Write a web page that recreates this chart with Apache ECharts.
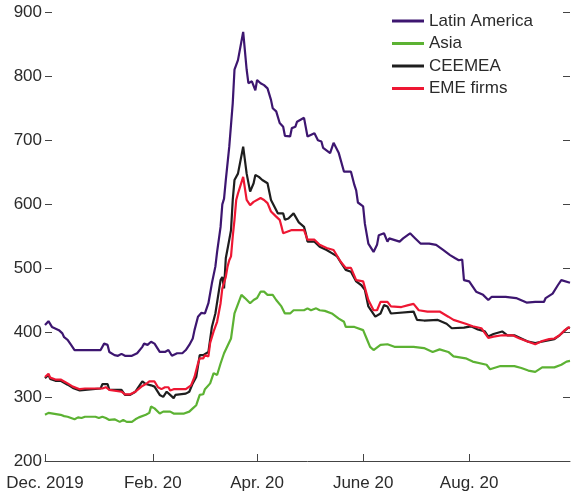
<!DOCTYPE html>
<html>
<head>
<meta charset="utf-8">
<script src="https://cdn.jsdelivr.net/npm/echarts@6/dist/echarts.min.js"></script>
<style>
  html, body { margin: 0; padding: 0; background: #fff; }
  #chart { width: 571px; height: 498px; }
</style>
</head>
<body>
<div id="chart"></div>
<script>
// Corporate bond spreads by region, basis points (date, level)
const latinAmerica = [
  ['2019-12-01',412],['2019-12-03',418],['2019-12-05',409],['2019-12-09',404],['2019-12-11',399],
  ['2019-12-12',393],['2019-12-14',389],['2019-12-16',381],['2019-12-18',373],['2020-01-02',373],
  ['2020-01-04',383],['2020-01-06',381],['2020-01-07',370],['2020-01-10',365],['2020-01-12',364],
  ['2020-01-14',367],['2020-01-16',364],['2020-01-20',364],['2020-01-23',368],['2020-01-26',378],
  ['2020-01-27',383],['2020-01-29',381],['2020-01-31',386],['2020-02-02',383],['2020-02-05',370],
  ['2020-02-08',370],['2020-02-10',373],['2020-02-12',364],['2020-02-15',368],['2020-02-18',368],
  ['2020-02-20',373],['2020-02-22',381],['2020-02-24',391],['2020-02-25',404],['2020-02-27',425],
  ['2020-02-29',431],['2020-03-02',430],['2020-03-03',433],['2020-03-04',446],['2020-03-06',477],
  ['2020-03-08',503],['2020-03-09',526],['2020-03-11',565],['2020-03-12',600],['2020-03-13',609],
  ['2020-03-14',638],['2020-03-16',690],['2020-03-18',758],['2020-03-19',810],['2020-03-21',825],
  ['2020-03-24',869],['2020-03-26',810],['2020-03-27',789],['2020-03-29',792],['2020-03-30',794],
  ['2020-03-31',778],['2020-04-01',794],['2020-04-03',789],['2020-04-05',786],['2020-04-07',781],
  ['2020-04-09',763],['2020-04-10',750],['2020-04-12',745],['2020-04-14',727],['2020-04-16',721],
  ['2020-04-17',707],['2020-04-20',706],['2020-04-21',719],['2020-04-23',721],['2020-04-24',729],
  ['2020-04-28',735],['2020-04-30',706],['2020-05-04',711],['2020-05-06',700],['2020-05-08',698],
  ['2020-05-09',688],['2020-05-13',680],['2020-05-15',696],['2020-05-18',680],['2020-05-21',651],
  ['2020-05-25',651],['2020-05-27',630],['2020-05-28',622],['2020-05-29',603],['2020-06-01',597],
  ['2020-06-02',570],['2020-06-04',539],['2020-06-07',526],['2020-06-09',537],['2020-06-10',552],
  ['2020-06-13',555],['2020-06-15',542],['2020-06-16',547],['2020-06-22',542],['2020-06-24',547],
  ['2020-06-28',555],['2020-07-01',547],['2020-07-04',539],['2020-07-09',539],['2020-07-13',537],
  ['2020-07-17',529],['2020-07-21',521],['2020-07-24',516],['2020-07-26',513],['2020-07-28',514],
  ['2020-07-29',482],['2020-08-01',480],['2020-08-05',464],['2020-08-09',459],['2020-08-12',451],
  ['2020-08-14',456],['2020-08-22',456],['2020-08-28',454],['2020-09-03',447],['2020-09-08',448],
  ['2020-09-13',448],['2020-09-14',454],['2020-09-18',461],['2020-09-21',474],['2020-09-23',482],
  ['2020-09-28',478]
];

const asia = [
  ['2019-12-01',272],['2019-12-03',275],['2019-12-04',272],['2019-12-10',272],['2019-12-11',274],
  ['2019-12-12',270],['2019-12-14',269],['2019-12-18',265],['2019-12-20',268],['2019-12-22',267],
  ['2019-12-24',269],['2019-12-30',269],['2020-01-01',267],['2020-01-03',269],['2020-01-05',267],
  ['2020-01-07',264],['2020-01-10',265],['2020-01-13',261],['2020-01-15',264],['2020-01-17',261],
  ['2020-01-20',261],['2020-01-22',265],['2020-01-24',268],['2020-01-28',272],['2020-01-30',275],
  ['2020-01-31',285],['2020-02-02',282],['2020-02-05',274],['2020-02-07',277],['2020-02-11',277],
  ['2020-02-13',274],['2020-02-19',274],['2020-02-22',277],['2020-02-24',282],['2020-02-26',287],
  ['2020-02-27',290],['2020-02-28',303],['2020-03-01',304],['2020-03-02',312],['2020-03-05',321],
  ['2020-03-07',337],['2020-03-09',334],['2020-03-11',352],['2020-03-13',368],['2020-03-17',391],
  ['2020-03-19',430],['2020-03-23',459],['2020-03-25',454],['2020-03-28',446],['2020-03-30',451],
  ['2020-04-01',454],['2020-04-03',464],['2020-04-05',464],['2020-04-07',459],['2020-04-10',459],
  ['2020-04-12',451],['2020-04-15',441],['2020-04-17',430],['2020-04-20',430],['2020-04-22',435],
  ['2020-04-28',435],['2020-04-30',438],['2020-05-02',435],['2020-05-05',438],['2020-05-07',435],
  ['2020-05-10',434],['2020-05-14',430],['2020-05-18',422],['2020-05-21',417],['2020-05-22',409],
  ['2020-05-27',409],['2020-06-01',404],['2020-06-03',391],['2020-06-05',378],['2020-06-07',373],
  ['2020-06-08',370],['2020-06-11',381],['2020-06-15',382],['2020-06-19',378],['2020-06-25',378],
  ['2020-06-30',378],['2020-07-06',376],['2020-07-11',370],['2020-07-15',374],['2020-07-20',370],
  ['2020-07-23',363],['2020-07-30',360],['2020-08-03',355],['2020-08-11',350],['2020-08-13',343],
  ['2020-08-19',348],['2020-08-27',348],['2020-08-31',345],['2020-09-04',341],['2020-09-08',339],
  ['2020-09-12',346],['2020-09-19',346],['2020-09-23',350],['2020-09-26',355],['2020-09-28',356]
];

const ceemea = [
  ['2019-12-01',329],['2019-12-03',334],['2019-12-04',328],['2019-12-07',325],['2019-12-10',325],
  ['2019-12-11',328],['2019-12-12',322],['2019-12-14',319],['2019-12-17',314],['2019-12-21',310],
  ['2019-12-24',311],['2020-01-02',313],['2020-01-03',320],['2020-01-06',320],['2020-01-07',311],
  ['2020-01-14',311],['2020-01-16',303],['2020-01-19',303],['2020-01-22',308],['2020-01-26',324],
  ['2020-01-28',320],['2020-01-31',318],['2020-02-02',316],['2020-02-05',303],['2020-02-07',300],
  ['2020-02-09',308],['2020-02-11',303],['2020-02-13',298],['2020-02-14',303],['2020-02-20',305],
  ['2020-02-22',308],['2020-02-24',321],['2020-02-26',331],['2020-02-28',365],['2020-03-01',365],
  ['2020-03-04',370],['2020-03-06',409],['2020-03-08',430],['2020-03-11',482],['2020-03-12',487],
  ['2020-03-13',469],['2020-03-14',516],['2020-03-16',545],['2020-03-17',560],['2020-03-18',607],
  ['2020-03-19',638],['2020-03-21',648],['2020-03-24',690],['2020-03-26',648],['2020-03-28',620],
  ['2020-03-30',633],['2020-03-31',646],['2020-04-02',643],['2020-04-04',638],['2020-04-07',633],
  ['2020-04-09',607],['2020-04-13',586],['2020-04-16',586],['2020-04-17',576],['2020-04-19',578],
  ['2020-04-22',586],['2020-04-25',572],['2020-04-28',565],['2020-04-29',555],['2020-04-30',542],
  ['2020-05-04',542],['2020-05-07',534],['2020-05-11',529],['2020-05-14',524],['2020-05-17',519],
  ['2020-05-20',506],['2020-05-22',498],['2020-05-25',495],['2020-05-28',480],['2020-05-31',474],
  ['2020-06-02',467],['2020-06-04',441],['2020-06-08',425],['2020-06-11',430],['2020-06-13',443],
  ['2020-06-15',441],['2020-06-17',430],['2020-06-30',433],['2020-07-02',420],['2020-07-06',419],
  ['2020-07-14',420],['2020-07-19',414],['2020-07-22',407],['2020-07-29',408],['2020-08-02',410],
  ['2020-08-06',405],['2020-08-10',402],['2020-08-12',394],['2020-08-15',398],['2020-08-20',402],
  ['2020-08-23',396],['2020-08-27',396],['2020-09-04',386],['2020-09-08',384],['2020-09-19',390],
  ['2020-09-22',396],['2020-09-27',408],['2020-09-28',407]
];

const emeFirms = [
  ['2019-12-01',331],['2019-12-03',336],['2019-12-04',330],['2019-12-07',327],['2019-12-10',327],
  ['2019-12-11',330],['2019-12-12',324],['2019-12-14',321],['2019-12-17',316],['2019-12-21',312],
  ['2019-12-24',313],['2020-01-03',313],['2020-01-05',315],['2020-01-06',312],['2020-01-07',311],
  ['2020-01-14',308],['2020-01-16',304],['2020-01-19',304],['2020-01-22',308],['2020-01-26',317],
  ['2020-01-28',320],['2020-01-30',324],['2020-02-02',324],['2020-02-04',315],['2020-02-06',312],
  ['2020-02-08',315],['2020-02-10',315],['2020-02-11',310],['2020-02-13',312],['2020-02-20',312],
  ['2020-02-23',318],['2020-02-25',331],['2020-02-27',352],['2020-02-28',360],['2020-03-01',360],
  ['2020-03-02',365],['2020-03-04',363],['2020-03-05',384],['2020-03-07',402],['2020-03-09',417],
  ['2020-03-11',446],['2020-03-12',469],['2020-03-13',472],['2020-03-14',487],['2020-03-15',503],
  ['2020-03-16',513],['2020-03-17',519],['2020-03-18',550],['2020-03-19',576],['2020-03-20',607],
  ['2020-03-21',617],['2020-03-24',643],['2020-03-26',607],['2020-03-28',599],['2020-03-30',604],
  ['2020-03-31',607],['2020-04-03',610],['2020-04-05',607],['2020-04-07',602],['2020-04-09',589],
  ['2020-04-12',581],['2020-04-14',576],['2020-04-15',566],['2020-04-16',555],['2020-04-21',560],
  ['2020-04-28',560],['2020-04-30',545],['2020-05-04',545],['2020-05-07',537],['2020-05-11',532],
  ['2020-05-15',529],['2020-05-19',511],['2020-05-22',501],['2020-05-25',501],['2020-05-28',482],
  ['2020-06-01',480],['2020-06-04',451],['2020-06-07',435],['2020-06-09',435],['2020-06-11',448],
  ['2020-06-15',448],['2020-06-17',441],['2020-06-23',440],['2020-06-27',443],['2020-06-30',445],
  ['2020-07-03',435],['2020-07-08',433],['2020-07-15',433],['2020-07-20',425],['2020-07-23',420],
  ['2020-07-30',414],['2020-08-03',410],['2020-08-08',407],['2020-08-12',392],['2020-08-15',394],
  ['2020-08-20',396],['2020-08-26',396],['2020-08-30',391],['2020-09-04',386],['2020-09-08',382],
  ['2020-09-12',387],['2020-09-16',390],['2020-09-19',391],['2020-09-22',396],['2020-09-25',404],
  ['2020-09-27',408],['2020-09-28',408]
];

// Axis ticks and labels
const xTickDates = ['2019-12-01', '2020-02-01', '2020-04-01', '2020-06-01', '2020-08-01'];
const xTickLabels = ['Dec. 2019', 'Feb. 20', 'Apr. 20', 'June 20', 'Aug. 20'];
const xStart = '2019-12-01';
const xEnd = '2020-09-28';
const yMin = 200, yMax = 900, yStep = 100;

const seriesNames = ['Latin America', 'Asia', 'CEEMEA', 'EME firms'];
const seriesColors = ['#3d1670', '#5cb233', '#1e1e1e', '#ee1733'];

const toTime = d => Date.parse(d + 'T00:00:00Z');
const tickTimes = xTickDates.map(toTime);
const labelFor = {};
tickTimes.forEach((t, i) => { labelFor[t] = xTickLabels[i]; });

const FONT = '"Liberation Sans", Arial, Helvetica, sans-serif';
const TEXT = '#2b2b2b';
const FONT_SIZE = 17;

const chart = echarts.init(document.getElementById('chart'), null, { renderer: 'canvas' });

const lineSeries = [latinAmerica, asia, ceemea, emeFirms].map((rows, i) => ({
  name: seriesNames[i],
  type: 'line',
  showSymbol: false,
  symbol: 'none',
  animation: false,
  lineStyle: { color: seriesColors[i], width: 2.2 },
  itemStyle: { color: seriesColors[i] },
  data: rows.map(r => [toTime(r[0]), r[1]])
}));

chart.setOption({
  backgroundColor: '#fff',
  animation: false,
  grid: { left: 45, right: 1, top: 12, bottom: 37, containLabel: false },
  legend: {
    data: seriesNames,
    orient: 'vertical',
    left: 392,
    top: 10,
    padding: 0,
    itemWidth: 32,
    itemHeight: 3,
    itemGap: 0.5,
    icon: 'rect',
    textStyle: { fontFamily: FONT, fontSize: FONT_SIZE, color: TEXT, lineHeight: 22 }
  },
  xAxis: {
    type: 'value',
    min: toTime(xStart),
    max: toTime(xEnd),
    splitLine: { show: false },
    axisLine: { show: true, lineStyle: { color: '#444', width: 1 } },
    axisTick: { show: true, inside: true, length: 7, customValues: tickTimes, lineStyle: { color: '#444' } },
    axisLabel: {
      customValues: tickTimes,
      formatter: v => labelFor[v] || '',
      fontFamily: FONT, fontSize: FONT_SIZE, color: TEXT, margin: 14
    }
  },
  yAxis: [
    {
      type: 'value', min: yMin, max: yMax, interval: yStep,
      splitLine: { show: false },
      axisLine: { show: false },
      axisTick: { show: true, inside: true, length: 7, lineStyle: { color: '#444' } },
      axisLabel: { fontFamily: FONT, fontSize: FONT_SIZE, color: TEXT, margin: 3 }
    },
    {
      type: 'value', position: 'right', min: yMin, max: yMax, interval: yStep,
      splitLine: { show: false },
      axisLine: { show: false },
      axisTick: { show: true, inside: true, length: 7, lineStyle: { color: '#444' } },
      axisLabel: { show: false }
    }
  ],
  series: lineSeries
});
</script>
</body>
</html>
